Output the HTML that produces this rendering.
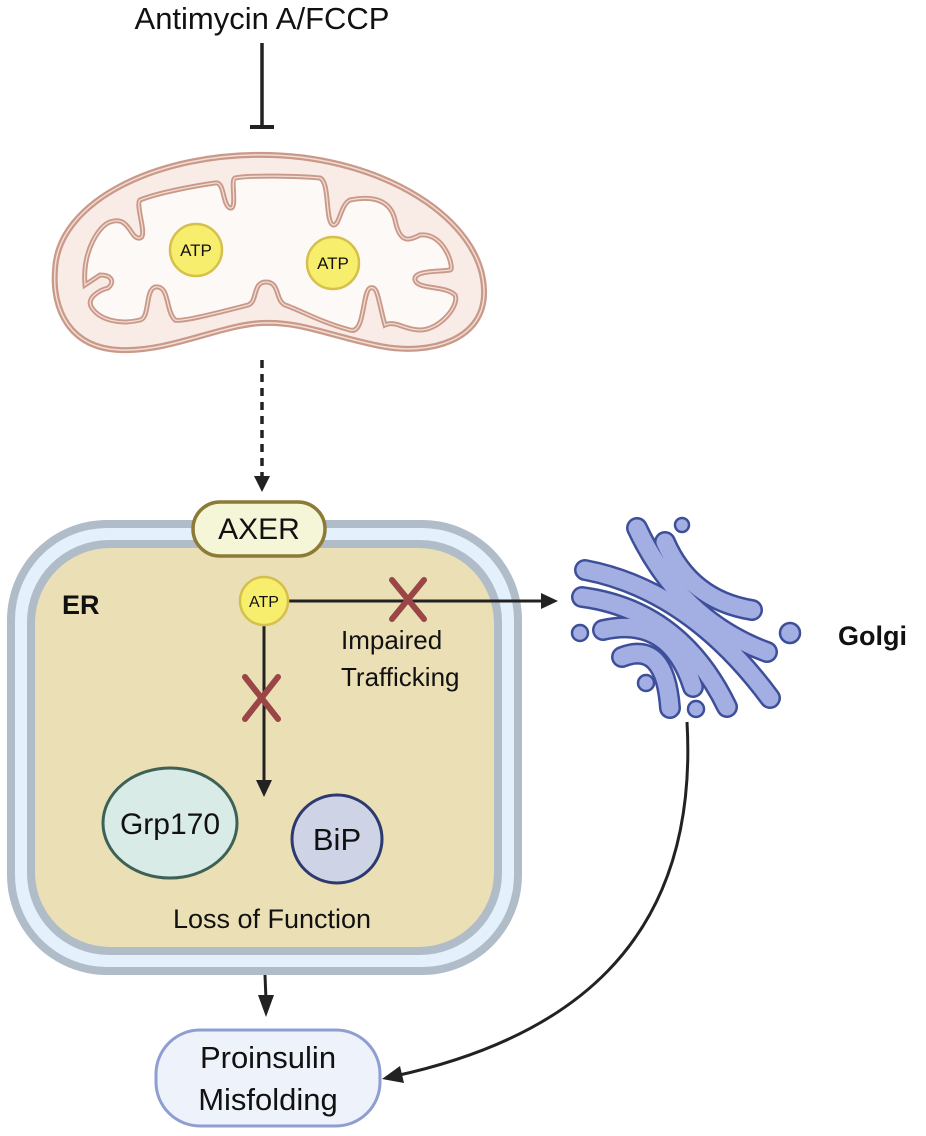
<!DOCTYPE html>
<html><head><meta charset="utf-8"><style>html,body{margin:0;padding:0;background:#fff}svg{display:block}text{font-family:"Liberation Sans",sans-serif;fill:#111}</style></head>
<body>
<svg width="926" height="1136" viewBox="0 0 926 1136" xmlns="http://www.w3.org/2000/svg">
<text x="262" y="29" font-size="31" text-anchor="middle">Antimycin A/FCCP</text>
<line x1="262" y1="43" x2="262" y2="127" stroke="#222" stroke-width="3.5"/>
<line x1="250" y1="127" x2="274" y2="127" stroke="#222" stroke-width="4"/>

<!-- Mitochondrion -->
<path d="M55,270 C58,200 160,152 270,155 C385,158 482,220 484,290 C486,340 430,356 380,346 C330,336 300,321 262,323 C220,325 170,352 120,350 C70,348 52,310 55,270 Z" fill="#f9ece6" stroke="#c9998a" stroke-width="6"/>
<path d="M55,270 C58,200 160,152 270,155 C385,158 482,220 484,290 C486,340 430,356 380,346 C330,336 300,321 262,323 C220,325 170,352 120,350 C70,348 52,310 55,270 Z" fill="none" stroke="#f3ddd3" stroke-width="1.5"/>
<path d="M85,285 C82,250 100,225 110,222 C130,215 130,240 140,238 C148,236 135,205 140,200 C160,192 200,185 215,183 C225,181 222,205 230,208 C238,210 230,180 235,178 C250,175 300,176 320,178 C330,182 325,222 333,225 C340,226 340,205 350,200 C370,196 390,198 395,220 C400,245 410,240 420,235 C445,232 455,270 450,270 C440,272 413,270 415,280 C418,290 445,285 455,295 C460,305 440,330 420,330 C405,330 395,320 385,325 C378,300 378,285 370,288 C362,292 365,335 350,330 C320,322 300,310 285,305 C275,300 280,282 266,282 C252,282 258,302 248,305 C210,315 180,322 175,320 C165,310 170,285 155,287 C145,290 150,318 140,320 C120,325 100,320 92,308 C85,298 100,290 108,288 C115,282 112,275 100,275 Z" fill="#fdf9f7" stroke="#c9998a" stroke-width="5"/>
<path d="M85,285 C82,250 100,225 110,222 C130,215 130,240 140,238 C148,236 135,205 140,200 C160,192 200,185 215,183 C225,181 222,205 230,208 C238,210 230,180 235,178 C250,175 300,176 320,178 C330,182 325,222 333,225 C340,226 340,205 350,200 C370,196 390,198 395,220 C400,245 410,240 420,235 C445,232 455,270 450,270 C440,272 413,270 415,280 C418,290 445,285 455,295 C460,305 440,330 420,330 C405,330 395,320 385,325 C378,300 378,285 370,288 C362,292 365,335 350,330 C320,322 300,310 285,305 C275,300 280,282 266,282 C252,282 258,302 248,305 C210,315 180,322 175,320 C165,310 170,285 155,287 C145,290 150,318 140,320 C120,325 100,320 92,308 C85,298 100,290 108,288 C115,282 112,275 100,275 Z" fill="none" stroke="#f3ddd3" stroke-width="1.3"/>
<circle cx="196" cy="250" r="26" fill="#f8ee6e" stroke="#d4c04a" stroke-width="2.5"/>
<text x="196" y="256" font-size="17" text-anchor="middle">ATP</text>
<circle cx="333" cy="263" r="26" fill="#f8ee6e" stroke="#d4c04a" stroke-width="2.5"/>
<text x="333" y="269" font-size="17" text-anchor="middle">ATP</text>

<line x1="262" y1="360" x2="262" y2="480" stroke="#222" stroke-width="3.5" stroke-dasharray="8,6" />
<path d="M254,476 L270,476 L262,492 Z" fill="#222"/>

<!-- ER -->
<rect x="7" y="520" width="515" height="455" rx="100" fill="#b0bcc8"/>
<rect x="15" y="528" width="499" height="439" rx="92" fill="#e4f0fc"/>
<rect x="27" y="540" width="475" height="415" rx="82" fill="#b0bcc8"/>
<rect x="35" y="548" width="459" height="399" rx="75" fill="#ebdfb5"/>
<text x="62" y="614" font-size="27" font-weight="bold">ER</text>

<rect x="193" y="502" width="132" height="54" rx="27" fill="#f5f5d8" stroke="#8c7a35" stroke-width="3.5"/>
<text x="259" y="539" font-size="30" text-anchor="middle">AXER</text>

<line x1="287" y1="601" x2="548" y2="601" stroke="#222" stroke-width="3"/>
<path d="M541,593 L558,601 L541,609 Z" fill="#222"/>
<line x1="264" y1="625" x2="264" y2="785" stroke="#222" stroke-width="3"/>
<path d="M256,780 L272,780 L264,797 Z" fill="#222"/>
<circle cx="264" cy="601" r="24" fill="#f8ee6e" stroke="#d4c04a" stroke-width="2.5"/>
<text x="264" y="607" font-size="16" text-anchor="middle">ATP</text>
<g stroke="#9a4647" stroke-width="6" stroke-linecap="round">
<line x1="392" y1="580" x2="424" y2="619"/><line x1="424" y1="580" x2="392" y2="619"/>
<line x1="245" y1="677" x2="278" y2="719"/><line x1="278" y1="677" x2="245" y2="719"/>
</g>
<text x="341" y="649" font-size="26">Impaired</text>
<text x="341" y="686" font-size="26">Trafficking</text>

<ellipse cx="170" cy="823" rx="67" ry="55" fill="#d9ebe7" stroke="#3d6155" stroke-width="3"/>
<text x="170" y="834" font-size="30" text-anchor="middle">Grp170</text>
<ellipse cx="337" cy="839" rx="45" ry="44" fill="#cfd3e6" stroke="#2c3a6e" stroke-width="3"/>
<text x="337" y="850" font-size="31" text-anchor="middle">BiP</text>
<text x="272" y="928" font-size="27" text-anchor="middle">Loss of Function</text>

<line x1="265" y1="975" x2="266" y2="1000" stroke="#222" stroke-width="3"/>
<path d="M258,995 L274,995 L266,1017 Z" fill="#222"/>

<rect x="156" y="1030" width="224" height="96" rx="44" fill="#eef2fb" stroke="#8f9ed0" stroke-width="3"/>
<text x="268" y="1068" font-size="31" text-anchor="middle">Proinsulin</text>
<text x="268" y="1110" font-size="31" text-anchor="middle">Misfolding</text>

<path d="M687,722 C700,950 560,1040 395,1076" fill="none" stroke="#222" stroke-width="3"/>
<path d="M382,1079 L400,1066 L404,1083 Z" fill="#222"/>

<!-- Golgi -->
<g fill="none" stroke-linecap="round">
<g stroke="#3e4f9a" stroke-width="22">
<path d="M637,528 Q680,620 767,652"/>
<path d="M665,542 Q690,600 752,610"/>
<path d="M585,570 Q690,590 770,698"/>
<path d="M582,597 Q680,610 727,707"/>
<path d="M603,630 Q670,615 693,687"/>
<path d="M622,657 Q665,640 670,708"/>
</g>
<g stroke="#a3aee2" stroke-width="17">
<path d="M637,528 Q680,620 767,652"/>
<path d="M665,542 Q690,600 752,610"/>
<path d="M585,570 Q690,590 770,698"/>
<path d="M582,597 Q680,610 727,707"/>
<path d="M603,630 Q670,615 693,687"/>
<path d="M622,657 Q665,640 670,708"/>
</g>
</g>
<g fill="#a3aee2" stroke="#3e4f9a" stroke-width="2.5">
<circle cx="682" cy="525" r="7"/><circle cx="580" cy="633" r="8"/><circle cx="790" cy="633" r="10"/><circle cx="646" cy="683" r="8"/><circle cx="696" cy="709" r="8"/>
</g>
<text x="838" y="645" font-size="27" font-weight="bold">Golgi</text>
</svg>
</body></html>
